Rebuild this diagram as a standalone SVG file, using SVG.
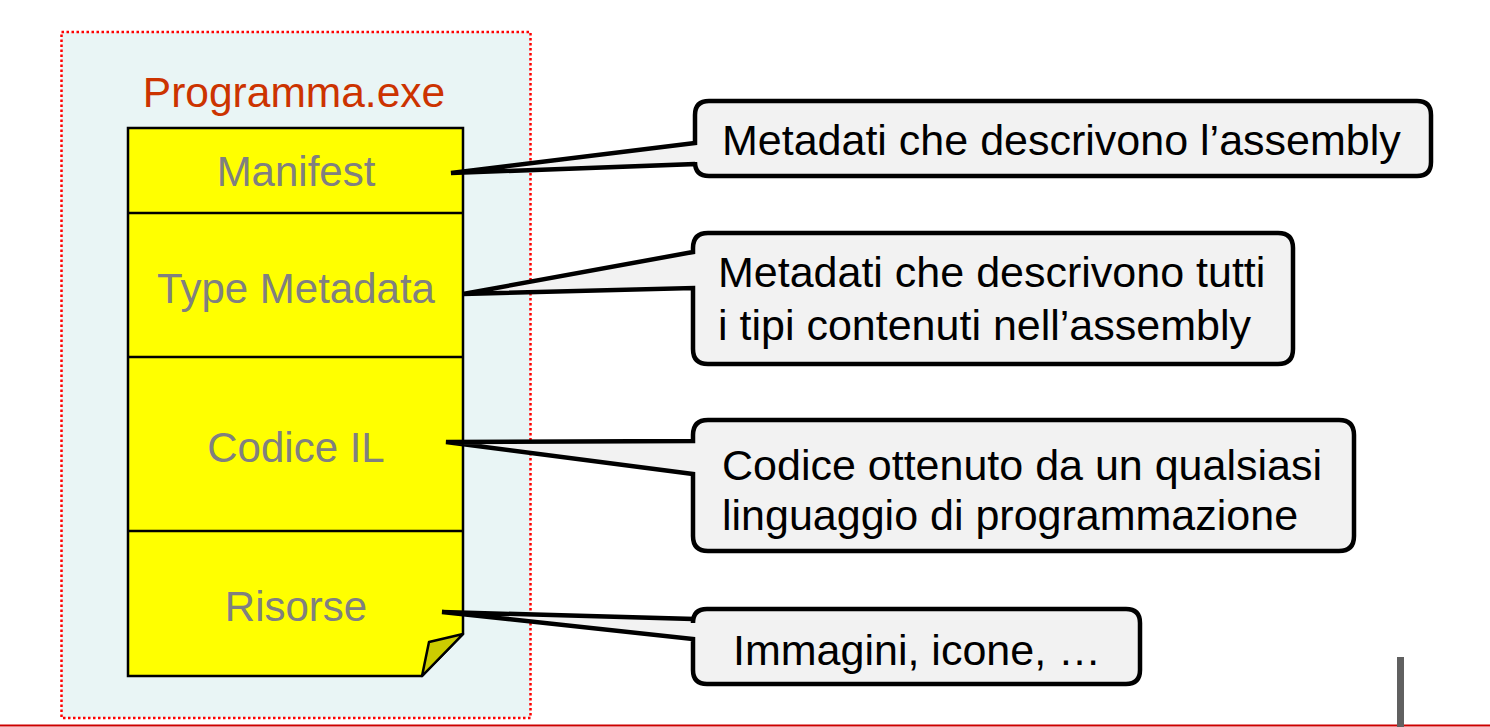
<svg xmlns="http://www.w3.org/2000/svg" width="1490" height="727" viewBox="0 0 1490 727">
<style>
.lbl{font-family:"Liberation Sans",Arial,sans-serif;font-size:42px;fill:#808080;text-anchor:middle}
.ct{font-family:"Liberation Sans",Arial,sans-serif;font-size:43px;fill:#000}
.co{fill:#f2f2f2;stroke:#000;stroke-width:4.5;stroke-linejoin:miter}
.sec{fill:none;stroke:#000;stroke-width:2.5}
</style>
<rect width="1490" height="727" fill="#fff"/>
<g id="container">
<rect x="61.5" y="32" width="469" height="686" fill="#e9f5f5" stroke="#ff0000" stroke-width="2.5" stroke-dasharray="2.5,2.5"/>
<text x="294" y="107" font-family="'Liberation Sans',Arial,sans-serif" font-size="42.5" fill="#cc3300" text-anchor="middle">Programma.exe</text>
</g>
<g id="assembly">
<path d="M128,128 H463 V634 L422,676 H128 Z" fill="#ffff00" stroke="#000" stroke-width="2.5" stroke-linejoin="miter"/>
<path d="M463,634 L429,642 L422,676 Z" fill="#cccc00" stroke="#000" stroke-width="2.5" stroke-linejoin="round"/>
</g>
<g id="manifest">
<text class="lbl" x="296" y="186">Manifest</text>
</g>
<g id="typemetadata">
<line class="sec" x1="128" y1="213" x2="463" y2="213"/>
<text class="lbl" x="296" y="303">Type Metadata</text>
</g>
<g id="codiceil">
<line class="sec" x1="128" y1="357" x2="463" y2="357"/>
<text class="lbl" x="296" y="462">Codice IL</text>
</g>
<g id="risorse">
<line class="sec" x1="128" y1="531" x2="463" y2="531"/>
<text class="lbl" x="296" y="621">Risorse</text>
</g>
<g id="connectors">
<g id="callout1">
<path class="co" d="M709,101 H1417 Q1431,101 1431,115 V162 Q1431,176 1417,176 H709 Q695,176 695,162 V164 L451,173 L695,143 V115 Q695,101 709,101 Z"/>
<text class="ct" x="722" y="155">Metadati che descrivono l’assembly</text>
</g>
<g id="callout2">
<path class="co" d="M708,233 H1278 Q1293,233 1293,248 V349 Q1293,364 1278,364 H708 Q693,364 693,349 V288 L463,294 L693,252 V248 Q693,233 708,233 Z"/>
<text class="ct" x="718" y="287">Metadati che descrivono tutti</text>
<text class="ct" x="718" y="340">i tipi contenuti nell’assembly</text>
</g>
<g id="callout3">
<path class="co" d="M708,420 H1339 Q1354,420 1354,435 V536 Q1354,551 1339,551 H708 Q693,551 693,536 V474 L446,442 L693,441 V435 Q693,420 708,420 Z"/>
<text class="ct" x="722" y="480">Codice ottenuto da un qualsiasi</text>
<text class="ct" x="722" y="530">linguaggio di programmazione</text>
</g>
<g id="callout4">
<path class="co" d="M707,609 H1126 Q1140,609 1140,623 V670 Q1140,684 1126,684 H707 Q693,684 693,670 V639 L442,612 L693,619 V623 Q693,609 707,609 Z"/>
<text class="ct" x="733" y="665">Immagini, icone, …</text>
</g>
</g>
<g id="footer">
<line x1="0" y1="725.5" x2="1490" y2="725.5" stroke="#cc0000" stroke-width="2"/>
<rect x="1397" y="657" width="7" height="70" fill="#606060"/>
</g>
</svg>
